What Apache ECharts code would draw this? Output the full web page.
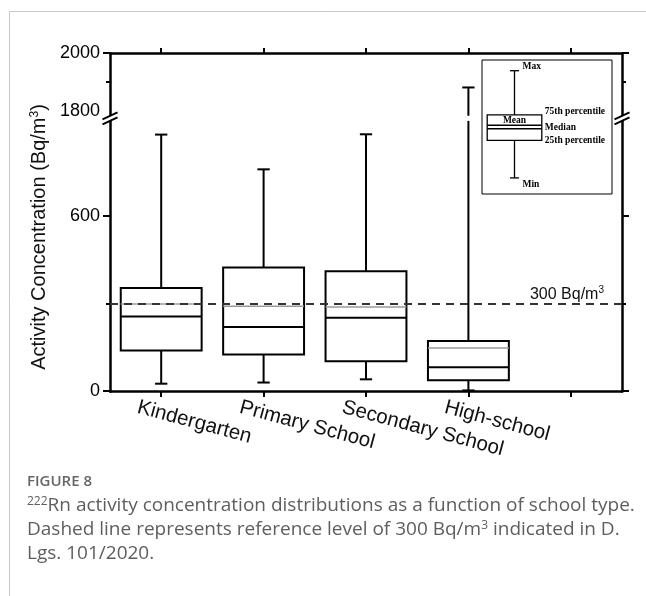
<!DOCTYPE html>
<html><head><meta charset="utf-8">
<script src="https://cdn.jsdelivr.net/npm/echarts@6/dist/echarts.min.js"></script>
<style>html,body{margin:0;padding:0;background:#fff}#c{width:646px;height:596px}</style>
</head><body><div id="c"></div>
<script>
// ---- data ----
const categories = ['Kindergarten', 'Primary School', 'Secondary School', 'High-school'];
const minVals    = [25, 29, 40, 2];
const q1Vals     = [139, 125, 102, 37];
const medianVals = [255, 219, 251, 81];
const meanVals   = [298, 290, 288, 147];
const q3Vals     = [353, 423, 410, 171];
const maxVals    = [878, 759, 879, 1882];
const referenceLevel = 300;
const yLabelValues = [0, 600, 1800, 2000];
const yMajorTicks = [0, 600, 2000];
const yMinorTicks = [300, 1900];
const xTickValues = [1, 2, 3, 4, 5];
const xLabelValues = [1, 2, 3, 4];
const breakStart = 925, breakEnd = 1785;
// legend key (schematic box)
const keyValues = [12, 40, 48.7, 51.3, 59, 92]; // min, q1, median, mean, q3, max

const font = '"Liberation Sans", Arial, sans-serif';
const serif = '"Liberation Serif", "Times New Roman", serif';

const boxData = categories.map((c, i) => [i + 1, minVals[i], q1Vals[i], medianVals[i], meanVals[i], q3Vals[i], maxVals[i]]);

function renderBox(params, api) {
  const x = api.value(0);
  const c = v => api.coord([x, v]);
  const p = k => c(api.value(k));
  const pMin = p(1), pQ1 = p(2), pMed = p(3), pMean = p(4), pQ3 = p(5), pMax = p(6);
  const hw = api.size([0.79, 0])[0] / 2;
  const cw = api.size([0.12, 0])[0] / 2;
  const cx = pMed[0];
  const st = { stroke: '#000', lineWidth: 2 };
  const kids = [];
  if (api.value(5) < breakStart && api.value(6) > breakEnd) {
    const a = c(breakStart), b = c(breakEnd);
    kids.push({ type: 'line', shape: { x1: cx, y1: pQ3[1], x2: cx, y2: a[1] }, style: st });
    kids.push({ type: 'line', shape: { x1: cx, y1: b[1], x2: cx, y2: pMax[1] }, style: st });
  } else {
    kids.push({ type: 'line', shape: { x1: cx, y1: pQ3[1], x2: cx, y2: pMax[1] }, style: st });
  }
  kids.push(
    { type: 'line', shape: { x1: cx - cw, y1: pMax[1], x2: cx + cw, y2: pMax[1] }, style: st },
    { type: 'line', shape: { x1: cx, y1: pQ1[1], x2: cx, y2: pMin[1] }, style: st },
    { type: 'line', shape: { x1: cx - cw, y1: pMin[1], x2: cx + cw, y2: pMin[1] }, style: st },
    { type: 'rect', shape: { x: cx - hw, y: pQ3[1], width: 2 * hw, height: pQ1[1] - pQ3[1] }, style: { stroke: '#000', lineWidth: 2, fill: 'none' } },
    { type: 'line', shape: { x1: cx - hw, y1: pMean[1], x2: cx + hw, y2: pMean[1] }, style: { stroke: '#9a9a9a', lineWidth: 1.5 } },
    { type: 'line', shape: { x1: cx - hw, y1: pMed[1], x2: cx + hw, y2: pMed[1] }, style: st }
  );
  return { type: 'group', children: kids };
}

function renderKey(params, api) {
  const x = api.value(0);
  const p = k => api.coord([x, api.value(k)]);
  const pMin = p(1), pQ1 = p(2), pMed = p(3), pMean = p(4), pQ3 = p(5), pMax = p(6);
  const hw = api.size([0.42, 0])[0] / 2;
  const cw = api.size([0.07, 0])[0] / 2;
  const cx = pMed[0];
  const st = { stroke: '#000', lineWidth: 1.3 };
  const ts = (t, xx, yy, align) => ({ type: 'text', x: xx, y: yy, style: { text: t, fill: '#000', font: 'bold 9.5px ' + serif, align: align || 'left', verticalAlign: 'middle' } });
  return { type: 'group', children: [
    { type: 'line', shape: { x1: cx, y1: pQ3[1], x2: cx, y2: pMax[1] }, style: st },
    { type: 'line', shape: { x1: cx - cw, y1: pMax[1], x2: cx + cw, y2: pMax[1] }, style: st },
    { type: 'line', shape: { x1: cx, y1: pQ1[1], x2: cx, y2: pMin[1] }, style: st },
    { type: 'line', shape: { x1: cx - cw, y1: pMin[1], x2: cx + cw, y2: pMin[1] }, style: st },
    { type: 'rect', shape: { x: cx - hw, y: pQ3[1], width: 2 * hw, height: pQ1[1] - pQ3[1] }, style: { stroke: '#000', lineWidth: 1.3, fill: 'none' } },
    { type: 'line', shape: { x1: cx - hw, y1: pMean[1], x2: cx + hw, y2: pMean[1] }, style: st },
    { type: 'line', shape: { x1: cx - hw, y1: pMed[1], x2: cx + hw, y2: pMed[1] }, style: st },
    ts('Max', cx + 8, pMax[1] - 4),
    ts('75th percentile', cx + hw + 3, pQ3[1] - 3),
    ts('Median', cx + hw + 3, pMed[1] - 1),
    ts('25th percentile', cx + hw + 3, pQ1[1]),
    ts('Min', cx + 8, pMin[1] + 7),
    ts('Mean', cx, pMean[1] - 5, 'center')
  ]};
}

function renderBreakMark(params, api) {
  const x = api.value(0);
  const a = api.coord([x, api.value(1)]);
  const b = api.coord([x, api.value(2)]);
  const cx = a[0], cy = (a[1] + b[1]) / 2;
  const w = 7.5, rise = 3.5, sep = 2.5;
  return { type: 'group', children: [
    { type: 'polygon', shape: { points: [[cx - w, cy - sep + rise], [cx + w, cy - sep - rise], [cx + w, cy + sep - rise], [cx - w, cy + sep + rise]] }, style: { fill: '#fff' } },
    { type: 'line', shape: { x1: cx - w, y1: cy - sep + rise, x2: cx + w, y2: cy - sep - rise }, style: { stroke: '#000', lineWidth: 2 } },
    { type: 'line', shape: { x1: cx - w, y1: cy + sep + rise, x2: cx + w, y2: cy + sep - rise }, style: { stroke: '#000', lineWidth: 2 } }
  ]};
}

const axisLine = { show: true, onZero: false, lineStyle: { color: '#000', width: 2.5 } };
const brk = [{ start: breakStart, end: breakEnd, gap: '1.5%' }];
const yBase = { type: 'value', min: 0, max: 2000, breaks: brk, splitLine: { show: false }, gridIndex: 0,
  breakArea: { show: false } };

const option = {
  animation: false,
  backgroundColor: '#fff',
  grid: [
    { left: 110, right: 24, top: 53, bottom: 205, show: false },
    { left: 482, top: 60, width: 130, height: 134, show: true, borderColor: '#000', borderWidth: 1, backgroundColor: 'rgba(0,0,0,0)' }
  ],
  xAxis: [
    { type: 'value', gridIndex: 0, position: 'bottom', min: 0.5, max: 5.5, axisLine: axisLine,
      axisTick: { show: true, customValues: xTickValues, length: 6, lineStyle: { color: '#000', width: 2 } },
      axisLabel: { show: false }, splitLine: { show: false } },
    { type: 'value', gridIndex: 0, position: 'bottom', min: 0.73, max: 5.73, axisLine: { show: false, onZero: false }, axisTick: { show: false },
      axisLabel: { show: true, customValues: xLabelValues, rotate: -15, margin: 16, fontSize: 20.5, fontFamily: font, color: '#111',
        formatter: v => categories[Math.round(v) - 1] || '' },
      splitLine: { show: false } },
    { type: 'value', gridIndex: 0, position: 'top', min: 0.5, max: 5.5, axisLine: axisLine,
      axisTick: { show: true, customValues: xTickValues, length: 5, lineStyle: { color: '#000', width: 2 } },
      axisLabel: { show: false }, splitLine: { show: false } },
    { type: 'value', gridIndex: 1, min: 0, max: 1, show: false }
  ],
  yAxis: [
    Object.assign({}, yBase, { position: 'left', axisLine: axisLine,
      axisTick: { show: true, customValues: yMajorTicks, length: 7, lineStyle: { color: '#000', width: 2 } },
      axisLabel: { show: true, customValues: yLabelValues, fontSize: 18, fontFamily: font, color: '#000', margin: 10,
        formatter: v => String(v) },
      name: 'Activity Concentration (Bq/m{s|3})', nameLocation: 'middle', nameRotate: 90, nameGap: 52,
      nameTextStyle: { fontSize: 20, fontFamily: font, color: '#111', padding: [0, 30, 0, 0],
        rich: { s: { fontSize: 12, fontFamily: font, color: '#111', verticalAlign: 'top', padding: [0, 0, 8, 0] } } } }),
    Object.assign({}, yBase, { position: 'left', axisLine: { show: false, onZero: false },
      axisTick: { show: true, customValues: yMinorTicks, length: 4, lineStyle: { color: '#000', width: 2 } },
      axisLabel: { show: false } }),
    Object.assign({}, yBase, { position: 'right', axisLine: axisLine,
      axisTick: { show: true, customValues: yMajorTicks, length: 7, lineStyle: { color: '#000', width: 2 } },
      axisLabel: { show: false } }),
    Object.assign({}, yBase, { position: 'right', axisLine: { show: false, onZero: false },
      axisTick: { show: true, customValues: yMinorTicks, length: 4, lineStyle: { color: '#000', width: 2 } },
      axisLabel: { show: false } }),
    { type: 'value', gridIndex: 1, min: 0, max: 100, show: false }
  ],
  series: [
    { type: 'custom', name: 'boxes', xAxisIndex: 0, yAxisIndex: 0, data: boxData, renderItem: renderBox,
      encode: { x: 0, y: [1, 2, 3, 4, 5, 6] }, clip: false, z: 2,
      markLine: { silent: true, symbol: ['none', 'none'], animation: false,
        lineStyle: { color: '#333', type: [8, 6], width: 2 },
        label: { show: true, position: 'insideEndTop', distance: 0, padding: [0, 18, 0, 0], formatter: '300 Bq/m{s|3}',
          fontSize: 16, fontFamily: font, color: '#111',
          rich: { s: { fontSize: 10, fontFamily: font, color: '#111', verticalAlign: 'top', padding: [0, 0, 8, 0] } } },
        data: [{ yAxis: referenceLevel }] } },
    { type: 'custom', name: 'breakMarks', xAxisIndex: 0, yAxisIndex: 0, data: [[0.5, breakStart, breakEnd], [5.5, breakStart, breakEnd]],
      renderItem: renderBreakMark, encode: { x: 0, y: [1, 2] }, clip: false, z: 10 },
    { type: 'custom', name: 'key', xAxisIndex: 3, yAxisIndex: 4, data: [[0.25].concat(keyValues)], renderItem: renderKey,
      encode: { x: 0, y: [1, 2, 3, 4, 5, 6] }, clip: false, z: 5 }
  ],
  graphic: [
    { type: 'line', shape: { x1: 9.5, y1: 11.5, x2: 646, y2: 11.5 }, style: { stroke: '#c8c8c8', lineWidth: 1 } },
    { type: 'line', shape: { x1: 9.5, y1: 11.5, x2: 9.5, y2: 596 }, style: { stroke: '#c8c8c8', lineWidth: 1 } },
    { type: 'text', left: 27, top: 474, style: { text: 'FIGURE 8', font: '600 15px "Open Sans", sans-serif', fill: '#666' } },
    { type: 'text', left: 27, top: 496, style: { text: '{s|222}Rn activity concentration distributions as a function of school type.',
        font: '19px "Open Sans", sans-serif', fill: '#5e5e5e',
        rich: { s: { font: '12px "Open Sans", sans-serif', fill: '#5e5e5e', verticalAlign: 'top', padding: [0, 0, 8, 0] } } } },
    { type: 'text', left: 27, top: 520, style: { text: 'Dashed line represents reference level of 300 Bq/m{s|3} indicated in D.',
        font: '19px "Open Sans", sans-serif', fill: '#5e5e5e',
        rich: { s: { font: '12px "Open Sans", sans-serif', fill: '#5e5e5e', verticalAlign: 'top', padding: [0, 0, 8, 0] } } } },
    { type: 'text', left: 27, top: 544, style: { text: 'Lgs. 101/2020.', font: '19px "Open Sans", sans-serif', fill: '#5e5e5e' } }
  ]
};

const chart = echarts.init(document.getElementById('c'), null, { renderer: 'canvas' });
chart.setOption(option);
</script>
</body></html>
